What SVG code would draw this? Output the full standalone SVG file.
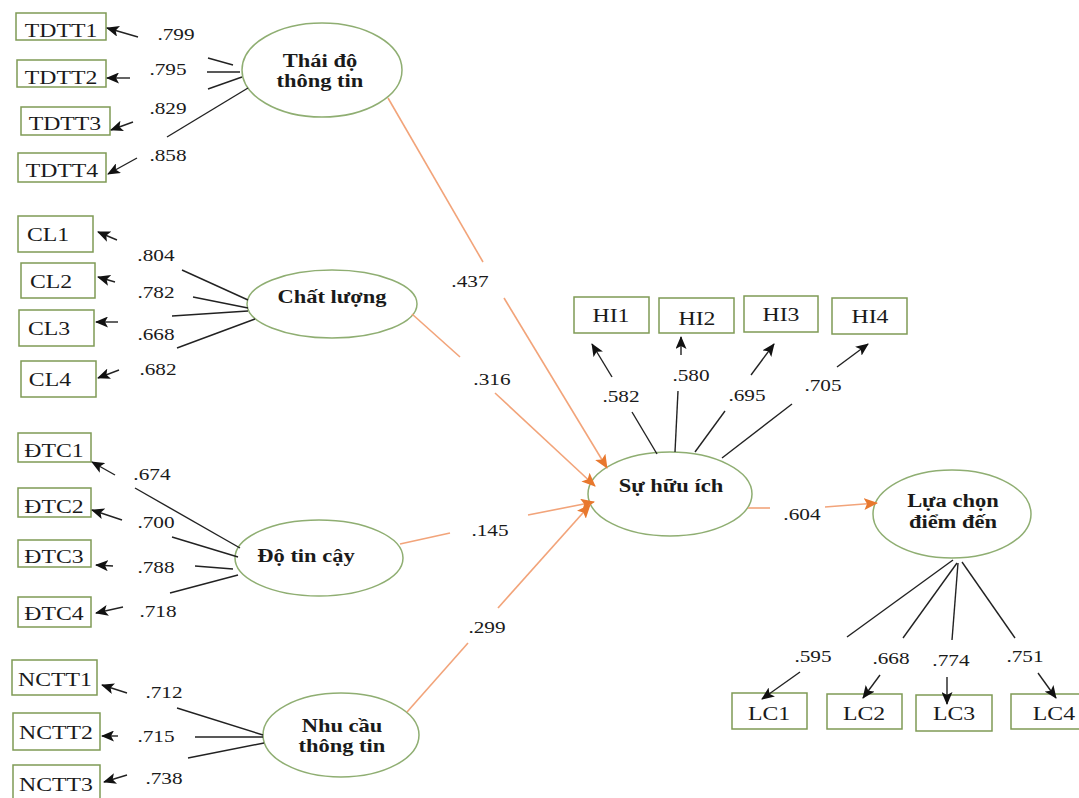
<svg xmlns="http://www.w3.org/2000/svg" width="1079" height="798" viewBox="0 0 1079 798">
<style>
.bx{fill:none;stroke:#7f9a55;stroke-width:1.5}
.el{fill:#fff;stroke:#8fae72;stroke-width:1.5}
.t{font-family:"Liberation Serif","Times New Roman",serif;fill:#1a1a1a;text-anchor:middle;transform-box:fill-box;transform-origin:center;transform:scaleX(1.25)}
.bt{font-size:19px}
.et{font-size:18px;font-weight:bold}
.nt{font-size:17px}
.k{stroke:#222;stroke-width:1.4;fill:none}
.o{stroke:#f2a47a;stroke-width:1.6;fill:none}
</style>
<defs>
<marker id="ab" markerUnits="userSpaceOnUse" markerWidth="13" markerHeight="11" refX="12" refY="5.5" orient="auto">
<path d="M0,0 L13,5.5 L0,11 L3,5.5 Z" fill="#111"/>
</marker>
<marker id="ao" markerUnits="userSpaceOnUse" markerWidth="14" markerHeight="12" refX="13" refY="6" orient="auto">
<path d="M0,0 L14,6 L0,12 L3,6 Z" fill="#e8782e"/>
</marker>
</defs>
<rect width="1079" height="798" fill="#fff"/>

<g id="TDTT1"><rect class="bx" x="16" y="13" width="90" height="27"/><text class="t bt" x="61" y="37">TDTT1</text></g>
<g id="TDTT2"><rect class="bx" x="17" y="60" width="89" height="27"/><text class="t bt" x="61" y="84">TDTT2</text></g>
<g id="TDTT3"><rect class="bx" x="21" y="107" width="89" height="28"/><text class="t bt" x="65" y="130">TDTT3</text></g>
<g id="TDTT4"><rect class="bx" x="18" y="153" width="88" height="29"/><text class="t bt" x="62" y="177">TDTT4</text></g>

<g id="CL1"><rect class="bx" x="18" y="216" width="75" height="36"/><text class="t bt" x="48" y="241">CL1</text></g>
<g id="CL2"><rect class="bx" x="21" y="263" width="74" height="35"/><text class="t bt" x="51" y="288">CL2</text></g>
<g id="CL3"><rect class="bx" x="19" y="310" width="75" height="36"/><text class="t bt" x="49" y="335">CL3</text></g>
<g id="CL4"><rect class="bx" x="21" y="361" width="75" height="36"/><text class="t bt" x="50" y="386">CL4</text></g>

<g id="DTC1"><rect class="bx" x="18" y="433" width="73" height="29"/><text class="t bt" x="54" y="457">ĐTC1</text></g>
<g id="DTC2"><rect class="bx" x="18" y="488" width="73" height="29"/><text class="t bt" x="54" y="513">ĐTC2</text></g>
<g id="DTC3"><rect class="bx" x="18" y="540" width="73" height="27"/><text class="t bt" x="54" y="563">ĐTC3</text></g>
<g id="DTC4"><rect class="bx" x="18" y="597" width="73" height="30"/><text class="t bt" x="54" y="620">ĐTC4</text></g>

<g id="NCTT1"><rect class="bx" x="12" y="660" width="85" height="35"/><text class="t bt" x="55" y="686">NCTT1</text></g>
<g id="NCTT2"><rect class="bx" x="13" y="713" width="87" height="37"/><text class="t bt" x="56" y="739">NCTT2</text></g>
<g id="NCTT3"><rect class="bx" x="13" y="765" width="87" height="36"/><text class="t bt" x="56" y="791">NCTT3</text></g>

<g id="HI1"><rect class="bx" x="574" y="297" width="75" height="36"/><text class="t bt" x="611" y="322">HI1</text></g>
<g id="HI2"><rect class="bx" x="659" y="298" width="75" height="35"/><text class="t bt" x="697" y="325">HI2</text></g>
<g id="HI3"><rect class="bx" x="744" y="296" width="74" height="36"/><text class="t bt" x="781" y="321">HI3</text></g>
<g id="HI4"><rect class="bx" x="832" y="298" width="75" height="36"/><text class="t bt" x="870" y="323">HI4</text></g>

<g id="LC1"><rect class="bx" x="732" y="693" width="75" height="36"/><text class="t bt" x="769" y="720">LC1</text></g>
<g id="LC2"><rect class="bx" x="827" y="694" width="75" height="35"/><text class="t bt" x="864" y="720">LC2</text></g>
<g id="LC3"><rect class="bx" x="916" y="695" width="76" height="36"/><text class="t bt" x="954" y="720">LC3</text></g>
<g id="LC4"><rect class="bx" x="1011" y="694" width="70" height="35"/><text class="t bt" x="1054" y="720">LC4</text></g>

<g id="ThaiDo"><ellipse class="el" cx="322" cy="70" rx="80" ry="47"/><text class="t et" x="320" y="67">Thái độ</text><text class="t et" x="320" y="87">thông tin</text></g>
<g id="ChatLuong"><ellipse class="el" cx="332" cy="304" rx="85" ry="34"/><text class="t et" x="332" y="303">Chất lượng</text></g>
<g id="DoTinCay"><ellipse class="el" cx="319" cy="558" rx="84" ry="38"/><text class="t et" x="306" y="562">Độ tin cậy</text></g>
<g id="NhuCau"><ellipse class="el" cx="341" cy="735" rx="78" ry="42"/><text class="t et" x="342" y="732">Nhu cầu</text><text class="t et" x="342" y="752">thông tin</text></g>
<g id="SuHuuIch"><ellipse class="el" cx="670" cy="494" rx="82" ry="42"/><text class="t et" x="671" y="492">Sự hữu ích</text></g>
<g id="LuaChon"><ellipse class="el" cx="952" cy="514" rx="79" ry="44"/><text class="t et" x="953" y="507">Lựa chọn</text><text class="t et" x="953" y="528">điểm đến</text></g>

<g id="connectors">
<line class="k" x1="208" y1="58" x2="233" y2="65"/>
<line class="k" x1="207" y1="72" x2="240" y2="72"/>
<line class="k" x1="208" y1="89" x2="242" y2="77"/>
<line class="k" x1="167" y1="137" x2="248" y2="88"/>
<line class="k" x1="138" y1="37" x2="107" y2="28" marker-end="url(#ab)"/>
<line class="k" x1="130" y1="78" x2="107" y2="78" marker-end="url(#ab)"/>
<line class="k" x1="133" y1="122" x2="111" y2="130" marker-end="url(#ab)"/>
<line class="k" x1="137" y1="158" x2="108" y2="174" marker-end="url(#ab)"/>
<line class="k" x1="182" y1="270" x2="248" y2="300"/>
<line class="k" x1="193" y1="297" x2="248" y2="308"/>
<line class="k" x1="172" y1="316" x2="248" y2="311"/>
<line class="k" x1="177" y1="348" x2="255" y2="319"/>
<line class="k" x1="117" y1="240" x2="98" y2="232" marker-end="url(#ab)"/>
<line class="k" x1="115" y1="282" x2="98" y2="277" marker-end="url(#ab)"/>
<line class="k" x1="118" y1="322" x2="96" y2="322" marker-end="url(#ab)"/>
<line class="k" x1="119" y1="370" x2="98" y2="378" marker-end="url(#ab)"/>
<line class="k" x1="135" y1="488" x2="240" y2="548"/>
<line class="k" x1="172" y1="537" x2="238" y2="557"/>
<line class="k" x1="195" y1="566" x2="233" y2="569"/>
<line class="k" x1="170" y1="593" x2="238" y2="575"/>
<line class="k" x1="115" y1="475" x2="92" y2="462" marker-end="url(#ab)"/>
<line class="k" x1="122" y1="520" x2="92" y2="510" marker-end="url(#ab)"/>
<line class="k" x1="113" y1="566" x2="96" y2="565" marker-end="url(#ab)"/>
<line class="k" x1="123" y1="607" x2="96" y2="613" marker-end="url(#ab)"/>
<line class="k" x1="177" y1="708" x2="263" y2="735"/>
<line class="k" x1="195" y1="737" x2="263" y2="737"/>
<line class="k" x1="188" y1="758" x2="264" y2="743"/>
<line class="k" x1="127" y1="693" x2="102" y2="685" marker-end="url(#ab)"/>
<line class="k" x1="118" y1="736" x2="102" y2="736" marker-end="url(#ab)"/>
<line class="k" x1="127" y1="775" x2="104" y2="782" marker-end="url(#ab)"/>
<line class="k" x1="632" y1="412" x2="657" y2="454"/>
<line class="k" x1="678" y1="391" x2="675" y2="452"/>
<line class="k" x1="725" y1="411" x2="695" y2="452"/>
<line class="k" x1="792" y1="404" x2="722" y2="458"/>
<line class="k" x1="612" y1="377" x2="592" y2="344" marker-end="url(#ab)"/>
<line class="k" x1="681" y1="355" x2="681" y2="337" marker-end="url(#ab)"/>
<line class="k" x1="751" y1="375" x2="774" y2="344" marker-end="url(#ab)"/>
<line class="k" x1="837" y1="367" x2="868" y2="344" marker-end="url(#ab)"/>
<line class="k" x1="953" y1="560" x2="847" y2="637"/>
<line class="k" x1="957" y1="563" x2="903" y2="638"/>
<line class="k" x1="958" y1="563" x2="952" y2="640"/>
<line class="k" x1="962" y1="562" x2="1015" y2="638"/>
<line class="k" x1="800" y1="672" x2="762" y2="699" marker-end="url(#ab)"/>
<line class="k" x1="880" y1="675" x2="863" y2="698" marker-end="url(#ab)"/>
<line class="k" x1="947" y1="677" x2="947" y2="704" marker-end="url(#ab)"/>
<line class="k" x1="1038" y1="673" x2="1056" y2="698" marker-end="url(#ab)"/>
<line class="o" x1="388" y1="98" x2="483" y2="262"/>
<line class="o" x1="504" y1="298" x2="607" y2="468" marker-end="url(#ao)"/>
<line class="o" x1="412" y1="314" x2="460" y2="357"/>
<line class="o" x1="495" y1="393" x2="595" y2="486" marker-end="url(#ao)"/>
<line class="o" x1="400" y1="544" x2="450" y2="533"/>
<line class="o" x1="528" y1="515" x2="594" y2="502" marker-end="url(#ao)"/>
<line class="o" x1="407" y1="712" x2="468" y2="643"/>
<line class="o" x1="498" y1="608" x2="590" y2="505" marker-end="url(#ao)"/>
<line class="o" x1="748" y1="508" x2="770" y2="508"/>
<line class="o" x1="825" y1="507" x2="877" y2="503" marker-end="url(#ao)"/>
</g>

<g id="labels">
<text class="t nt" x="176" y="40">.799</text>
<text class="t nt" x="168" y="75">.795</text>
<text class="t nt" x="168" y="114">.829</text>
<text class="t nt" x="168" y="161">.858</text>
<text class="t nt" x="156" y="261">.804</text>
<text class="t nt" x="156" y="298">.782</text>
<text class="t nt" x="156" y="340">.668</text>
<text class="t nt" x="158" y="375">.682</text>
<text class="t nt" x="152" y="480">.674</text>
<text class="t nt" x="156" y="528">.700</text>
<text class="t nt" x="156" y="573">.788</text>
<text class="t nt" x="158" y="617">.718</text>
<text class="t nt" x="164" y="698">.712</text>
<text class="t nt" x="156" y="742">.715</text>
<text class="t nt" x="164" y="784">.738</text>
<text class="t nt" x="470" y="287">.437</text>
<text class="t nt" x="492" y="385">.316</text>
<text class="t nt" x="490" y="536">.145</text>
<text class="t nt" x="487" y="633">.299</text>
<text class="t nt" x="621" y="402">.582</text>
<text class="t nt" x="691" y="381">.580</text>
<text class="t nt" x="747" y="401">.695</text>
<text class="t nt" x="823" y="391">.705</text>
<text class="t nt" x="802" y="520">.604</text>
<text class="t nt" x="813" y="662">.595</text>
<text class="t nt" x="891" y="664">.668</text>
<text class="t nt" x="951" y="666">.774</text>
<text class="t nt" x="1025" y="662">.751</text>
</g>
</svg>
